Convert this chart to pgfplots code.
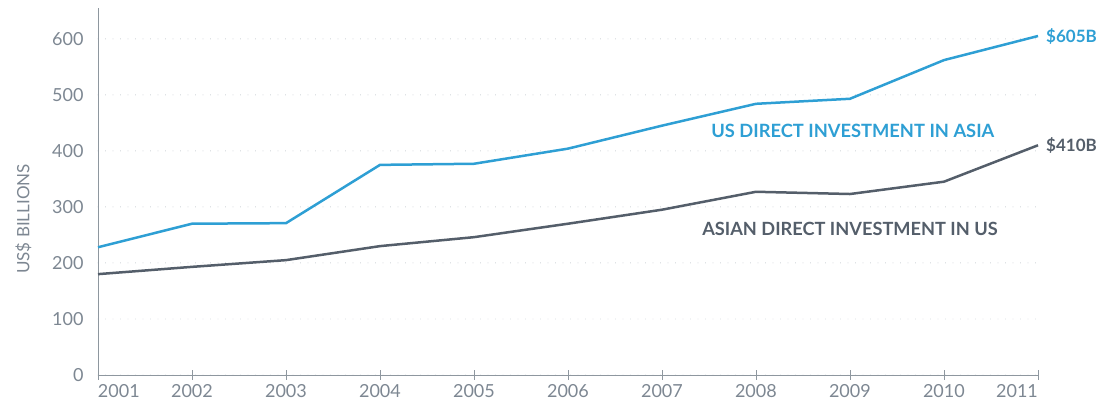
\documentclass[border=0pt]{standalone}
\usepackage{pgfplots}
\pgfplotsset{compat=1.18}
\usepackage{fontspec}
\setmainfont{Lato}
\definecolor{cblue}{HTML}{2E9FD4}
\definecolor{cdark}{HTML}{545E6A}
\definecolor{ctick}{HTML}{7D8792}
\definecolor{caxis}{HTML}{8E979F}
\definecolor{cgrid}{HTML}{BFC5CB}
\begin{document}
\begin{tikzpicture}
\begin{axis}[
  name=ax,
  scale only axis,
  width=940pt, height=367pt,
  xmin=2001, xmax=2011, ymin=0, ymax=655,
  axis x line=bottom, axis y line=left,
  axis line style={-, caxis, line width=0.8pt},
  xtick={2001,...,2011},
  xticklabels={\makebox[0pt][l]{2001},2002,2003,2004,2005,2006,2007,2008,2009,2010,\makebox[0pt][r]{2011}},
  ytick={0,100,200,300,400,500,600},
  x tick style={caxis, line width=0.8pt},
  major tick length=10pt,
  xtick align=center,
  y tick style={draw=none},
  tick label style={font=\fontsize{18}{21}\selectfont, text=ctick},
  /pgf/number format/assume math mode=true,
  xticklabel style={yshift=-1pt},
  yticklabel style={xshift=-6pt},
  ymajorgrids,
  grid style={cgrid, line width=0.9pt, line cap=round, dash pattern=on 0pt off 7.5pt},
  ylabel={US\$ BILLIONS},
  ylabel style={font=\fontsize{17}{20}\selectfont, text=ctick, at={(ticklabel cs:0.425,14pt)}},
  clip=false,
]
\addplot[cblue, line width=2.5pt] coordinates {
(2001,228) (2002,270) (2003,271) (2004,375) (2005,377) (2006,404) (2007,445) (2008,484) (2009,493) (2010,562) (2011,605)};
\addplot[cdark, line width=2.5pt] coordinates {
(2001,180) (2002,193) (2003,205) (2004,230) (2005,246) (2006,270) (2007,295) (2008,327) (2009,323) (2010,345) (2011,410)};
\node[anchor=west, text=cblue, font=\fontsize{17}{20}\selectfont\bfseries, inner sep=0pt, xshift=8pt] at (axis cs:2011,605) {\$605B};
\node[anchor=west, text=cdark, font=\fontsize{17}{20}\selectfont\bfseries, inner sep=0pt, xshift=8pt] at (axis cs:2011,410) {\$410B};
\node[text=cblue, font=\fontsize{18.3}{21}\selectfont\bfseries] at (axis cs:2009.03,436) {US DIRECT INVESTMENT IN ASIA};
\node[text=cdark, font=\fontsize{18.2}{21}\selectfont\bfseries] at (axis cs:2009.0,261) {ASIAN DIRECT INVESTMENT IN US};
\end{axis}
\path[use as bounding box] ([xshift=-98pt,yshift=-31pt]ax.south west) rectangle ([xshift=60pt,yshift=8pt]ax.north east);
\end{tikzpicture}
\end{document}
